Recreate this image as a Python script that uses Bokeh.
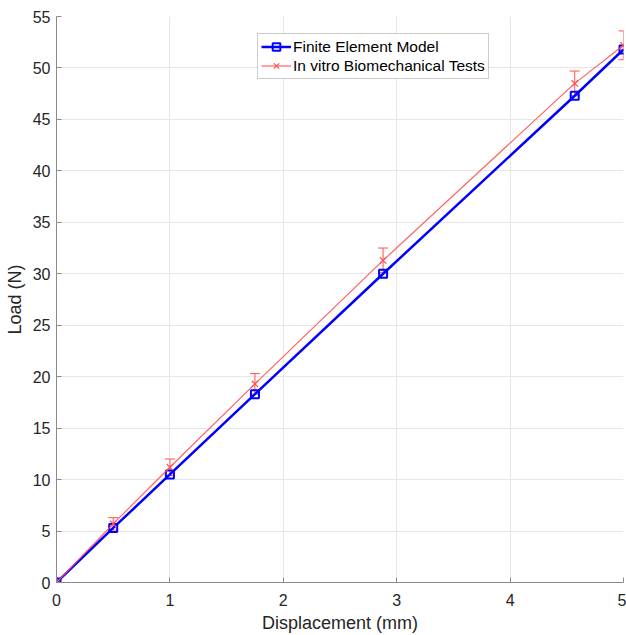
from bokeh.plotting import figure
from bokeh.models import ColumnDataSource, Whisker, TeeHead, FixedTicker, Range1d, Legend, LegendItem
from bokeh.embed import file_html
from bokeh.resources import INLINE

# Data
disp = [0.0, 0.5, 1.0, 1.75, 2.88, 4.57, 5.0]
fe_load = [0.0, 5.3, 10.5, 18.3, 30.0, 47.3, 51.8]
exp_load = [0.0, 5.7, 11.2, 19.3, 31.3, 48.5, 52.2]
exp_err = [0.0, 0.6, 0.8, 1.0, 1.2, 1.2, 1.4]
x_ticks = [0, 1, 2, 3, 4, 5]
y_ticks = [0, 5, 10, 15, 20, 25, 30, 35, 40, 45, 50, 55]

FONT = "Liberation Sans"

p = figure(width=626, height=635, output_backend="svg", toolbar_location=None,
           x_range=Range1d(0, 5), y_range=Range1d(0, 55),
           min_border_left=56, min_border_right=3, min_border_top=16, min_border_bottom=52)
p.outline_line_color = None
p.background_fill_color = "white"
p.border_fill_color = "white"

fe_src = ColumnDataSource(dict(x=disp, y=fe_load))
exp_src = ColumnDataSource(dict(x=disp, y=exp_load,
                                upper=[a + b for a, b in zip(exp_load, exp_err)],
                                lower=[a - b for a, b in zip(exp_load, exp_err)]))

fe_line = p.line("x", "y", source=fe_src, line_color="#0000ff", line_width=2.5)
fe_sq = p.scatter("x", "y", source=fe_src, marker="square", size=8, fill_color=None,
                  line_color="#0000ff", line_width=2)

ex_line = p.line("x", "y", source=exp_src, line_color="#ff5050", line_width=1.2, line_alpha=0.9)
ex_x = p.scatter("x", "y", source=exp_src, marker="x", size=9, line_color="#ff5050", line_width=1.2)
w = Whisker(source=exp_src, base="x", upper="upper", lower="lower",
            line_color="#ff5050", line_width=1,
            upper_head=TeeHead(size=10, line_color="#ff5050", line_width=1),
            lower_head=TeeHead(size=10, line_color="#ff5050", line_width=1))
p.add_layout(w)

# axes
for ax in (p.xaxis[0], p.yaxis[0]):
    ax.major_tick_in = 5
    ax.major_tick_out = 0
    ax.minor_tick_in = 0
    ax.minor_tick_out = 0
    ax.axis_line_color = "#8a8a8a"
    ax.major_tick_line_color = "#8a8a8a"
    ax.major_label_text_font = FONT
    ax.major_label_text_font_size = "16px"
    ax.major_label_text_color = "#262626"
    ax.axis_label_text_font = FONT
    ax.axis_label_text_font_size = "18px"
    ax.axis_label_text_font_style = "normal"
    ax.axis_label_text_color = "#262626"

p.xaxis.ticker = FixedTicker(ticks=x_ticks)
p.yaxis.ticker = FixedTicker(ticks=y_ticks)
p.xaxis.axis_label = "Displacement (mm)"
p.yaxis.axis_label = "Load (N)"
p.xaxis.major_label_standoff = 11
p.yaxis.major_label_standoff = 6
p.xaxis.axis_label_standoff = 4
p.yaxis.axis_label_standoff = 5

p.xgrid.grid_line_color = "#e6e6e6"
p.ygrid.grid_line_color = "#e6e6e6"

legend = Legend(items=[
    LegendItem(label="Finite Element Model", renderers=[fe_line, fe_sq]),
    LegendItem(label="In vitro Biomechanical Tests", renderers=[ex_line, ex_x]),
], location=(201, 503))
legend.label_text_font = FONT
legend.label_text_font_size = "15.5px"
legend.label_text_color = "#000000"
legend.border_line_color = "#999999"
legend.border_line_width = 1
legend.padding = 3
legend.spacing = 0
legend.margin = 0
legend.glyph_width = 30
legend.glyph_height = 19
legend.label_height = 19
legend.label_standoff = 2
p.add_layout(legend, "center")

open("out.html", "w").write(file_html(p, INLINE))
